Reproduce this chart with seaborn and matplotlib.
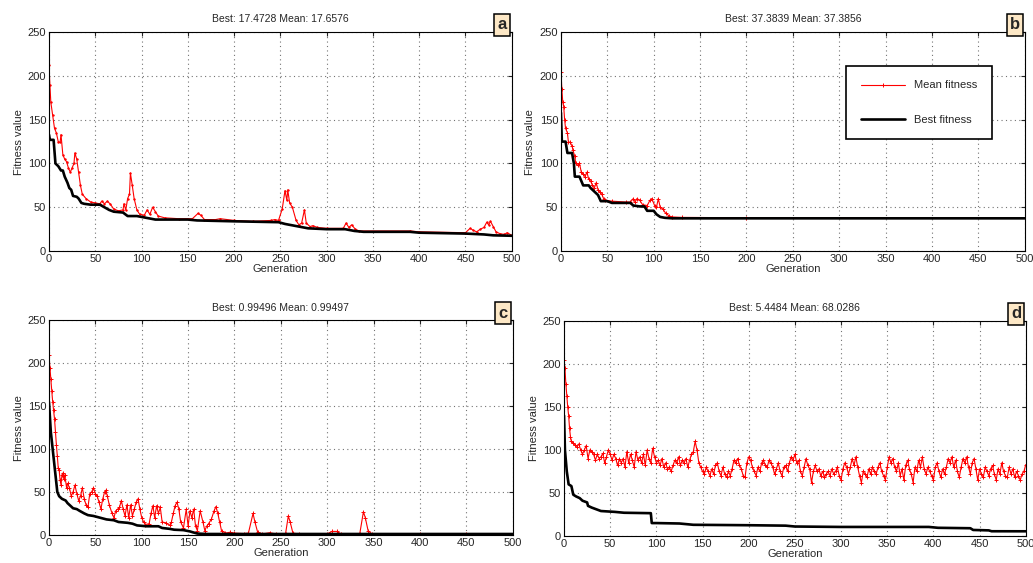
import matplotlib
matplotlib.use("Agg")
import matplotlib.pyplot as plt
import seaborn as sns

titles = ["Best: 17.4728 Mean: 17.6576", "Best: 37.3839 Mean: 37.3856",
          "Best: 0.99496 Mean: 0.99497", "Best: 5.4484 Mean: 68.0286"]
panel_labels = ["a", "b", "c", "d"]

# panel a
a_best_gen = [0, 1, 5, 7, 10, 13, 15, 17, 20, 22, 24, 26, 30, 32, 35, 38, 45, 55, 60, 65,
              70, 80, 85, 95, 105, 115, 150, 160, 200, 248, 255, 265, 275, 280, 300, 320,
              330, 340, 390, 400, 450, 470, 480, 500]
a_best_val = [133, 127, 127, 100, 97, 92, 92, 85, 78, 72, 70, 63, 62, 60, 55, 54, 53, 53, 50, 47,
              45, 44, 40, 40, 38, 36, 36, 35, 34, 33, 31, 29, 27, 26, 25, 25,
              23, 22, 22, 21, 20, 19, 18, 17.5]
a_mean_gen = [0, 1, 2, 4, 6, 8, 10, 12, 13, 15, 17, 19, 21, 23, 25, 27, 28, 30, 32, 34,
              36, 40, 45, 50, 55, 57, 60, 63, 66, 70, 75, 80, 81, 83, 85, 87, 88, 90, 92, 95,
              98, 103, 106, 109, 112, 115, 118, 125, 140, 155, 161, 164, 168, 180, 185, 200,
              220, 240, 244, 248, 252, 255, 257, 258, 260, 263, 267, 270, 273, 276, 278, 282,
              285, 290, 300, 318, 321, 324, 327, 331, 335, 390, 400, 450, 455, 458, 462, 466,
              470, 473, 475, 477, 480, 483, 487, 492, 495, 500]
a_mean_val = [212, 190, 170, 155, 140, 135, 125, 124, 133, 110, 105, 102, 95, 90, 95, 100, 112, 105, 90, 75,
              65, 60, 56, 55, 54, 57, 54, 57, 54, 48, 46, 47, 54, 47, 60, 65, 89, 75, 60, 47,
              42, 41, 47, 42, 50, 45, 40, 38, 37, 37, 43, 41, 36, 36, 37, 35,
              34, 35, 36, 35, 48, 69, 58, 70, 55, 50, 35, 30, 32, 47, 32, 28,
              29, 27, 26, 26, 32, 27, 30, 25, 23, 23, 22, 21, 26, 24, 22, 25,
              27, 33, 30, 34, 28, 22, 20, 19, 21, 18]

# panel b
b_best_gen = [0, 1, 5, 7, 12, 14, 15, 20, 22, 24, 30, 32, 36, 40, 43, 50, 55, 75, 78, 85,
              90, 93, 100, 103, 107, 112, 120, 500]
b_best_val = [158, 125, 125, 112, 112, 100, 85, 85, 80, 75, 75, 72, 68, 64, 57, 57, 55, 55, 52, 51,
              51, 46, 46, 42, 39, 38, 37.4, 37.4]
b_mean_gen = [0, 1, 2, 3, 4, 5, 7, 8, 10, 12, 13, 15, 16, 18, 20, 22, 24, 26, 28, 30,
              32, 34, 36, 38, 40, 42, 44, 46, 48, 55, 70, 75, 78, 80, 82, 85, 88, 93, 96, 98,
              101, 103, 105, 107, 110, 113, 117, 120, 130, 200, 500]
b_mean_val = [205, 185, 170, 165, 150, 140, 135, 125, 124, 120, 115, 108, 100, 98, 100, 90, 88, 85, 90, 82,
              80, 75, 72, 78, 70, 67, 65, 60, 58, 57, 56, 56, 60, 56, 60, 58, 53, 52, 58, 60,
              52, 50, 60, 50, 48, 43, 40, 39, 38.5, 38, 37.4]

# panel c
c_best_gen = [0, 2, 5, 9, 11, 14, 18, 20, 23, 26, 30, 33, 38, 42, 48, 55, 62, 70, 75, 85,
              90, 95, 105, 118, 122, 130, 135, 145, 152, 155, 160, 170, 500]
c_best_val = [155, 120, 90, 50, 45, 42, 40, 37, 34, 31, 30, 28, 25, 23, 22, 20, 18, 17, 15, 14,
              13, 11, 10, 10, 8, 7, 6, 5.5, 4, 3, 1.5, 1, 0.99]
c_mean_gen = [0, 1, 2, 3, 4, 5, 6, 7, 8, 9, 10, 11, 12, 13, 14, 15, 16, 17, 19, 20,
              22, 24, 26, 28, 30, 32, 34, 36, 38, 40, 42, 44, 46, 48, 50, 52, 54, 56, 58, 60,
              61, 63, 65, 68, 70, 72, 74, 76, 78, 80, 82, 84, 86, 88, 90, 92, 94, 96, 98, 100,
              102, 104, 108, 110, 112, 114, 116, 118, 120, 122, 126, 130, 132, 134, 136, 138,
              140, 142, 145, 148, 150, 152, 154, 156, 158, 160, 163, 166, 168, 170, 172, 175,
              178, 180, 182, 184, 186, 190, 195, 200, 210, 215, 220, 222, 225, 230, 238, 245,
              255, 258, 260, 263, 270, 300, 305, 310, 315, 335, 339, 341, 344, 348, 400, 450, 500]
c_mean_val = [210, 195, 182, 168, 155, 145, 135, 120, 105, 92, 78, 75, 64, 58, 70, 72, 65, 70, 55, 60,
              55, 45, 50, 58, 48, 40, 45, 55, 42, 35, 32, 48, 50, 55, 48, 45, 38, 30, 42, 50,
              52, 45, 35, 25, 20, 28, 30, 32, 40, 30, 22, 35, 20, 35, 22, 30, 38, 42, 30, 20,
              15, 12, 13, 25, 34, 20, 34, 25, 32, 15, 14, 11, 15, 25, 34, 38,
              30, 15, 8, 30, 10, 28, 20, 30, 10, 5, 28, 15, 5, 10, 13, 18,
              28, 33, 25, 15, 5, 2, 3, 2, 1.5, 2, 25, 15, 3, 1, 2.5, 1,
              1, 22, 15, 2, 1, 1, 4, 4, 1, 1, 27, 20, 5, 1, 1, 1, 1]

# panel d
d_best_gen = [0, 1, 3, 5, 8, 10, 13, 17, 20, 25, 26, 30, 35, 40, 55, 65, 94, 95, 100, 125,
              140, 200, 240, 250, 300, 395, 405, 440, 443, 460, 463, 500]
d_best_val = [140, 100, 75, 60, 58, 48, 46, 44, 41, 39, 35, 33, 31, 29, 28, 27, 26.5, 15, 15, 14.5,
              13, 12.5, 12, 11, 10.5, 10.5, 9.5, 9, 7, 6.5, 5.5, 5.45]
d_mean_gen = [0, 1, 2, 3, 4, 5, 6, 7, 8] + list(range(10, 501, 2))
d_mean_val = [205, 195, 177, 163, 150, 140, 125, 115, 110,
              108, 106, 104, 107, 100, 95, 100, 105, 90, 100,
              98, 95, 88, 95, 90, 92, 96, 85, 92, 100,
              95, 88, 95, 90, 82, 90, 85, 90, 80, 98,
              85, 95, 88, 80, 98, 88, 92, 85, 95, 82,
              100, 90, 85, 102, 92, 85, 88, 82, 90, 80,
              85, 78, 80, 75, 82, 88, 85, 92, 82, 88,
              85, 90, 80, 88, 95, 98, 110, 100, 85, 80,
              75, 72, 80, 75, 70, 78, 72, 82, 85, 75,
              70, 80, 72, 68, 75, 70, 78, 88, 85, 90,
              82, 78, 70, 68, 85, 92, 88, 80, 75, 70,
              80, 75, 85, 88, 82, 80, 88, 85, 80, 72,
              78, 85, 75, 70, 80, 82, 75, 85, 92, 88,
              95, 85, 88, 75, 70, 80, 90, 82, 78, 62,
              75, 82, 75, 78, 70, 75, 68, 72, 75, 70,
              78, 72, 75, 80, 70, 65, 78, 85, 80, 72,
              80, 90, 82, 92, 80, 70, 62, 75, 72, 68,
              78, 72, 80, 75, 72, 80, 85, 75, 70, 65,
              80, 92, 85, 90, 80, 75, 85, 70, 78, 65,
              82, 88, 78, 72, 62, 80, 75, 88, 80, 92,
              78, 72, 80, 75, 70, 65, 80, 85, 75, 68,
              78, 72, 80, 90, 85, 92, 80, 88, 75, 68,
              80, 90, 85, 92, 80, 72, 85, 90, 78, 65,
              78, 72, 68, 80, 75, 70, 78, 82, 72, 65,
              78, 72, 85, 75, 70, 68, 80, 72, 78, 68,
              75, 70, 65, 72, 75, 83]

best_gens = [a_best_gen, b_best_gen, c_best_gen, d_best_gen]
best_vals = [a_best_val, b_best_val, c_best_val, d_best_val]
mean_gens = [a_mean_gen, b_mean_gen, c_mean_gen, d_mean_gen]
mean_vals = [a_mean_val, b_mean_val, c_mean_val, d_mean_val]

sns.set_style("white")
plt.rcParams["font.family"] = ["Liberation Sans", "DejaVu Sans"]
plt.rcParams["font.size"] = 8

fig = plt.figure(figsize=(10.33, 5.63), dpi=100)
positions = [[0.0474, 0.554, 0.448, 0.389], [0.543, 0.554, 0.449, 0.389],
             [0.0474, 0.050, 0.449, 0.381], [0.546, 0.048, 0.447, 0.382]]
mean_marker = [".", "+", "+", "+"]
mean_msize = [2, 3, 3.5, 3.5]

for i in range(4):
    ax = fig.add_axes(positions[i])
    sns.lineplot(x=mean_gens[i], y=mean_vals[i], ax=ax, color="red", linewidth=0.8,
                 marker=mean_marker[i], markersize=mean_msize[i], markeredgecolor="red",
                 markerfacecolor="red", markeredgewidth=0.7, estimator=None, sort=False,
                 label="Mean fitness" if i == 1 else None, legend=False)
    sns.lineplot(x=best_gens[i], y=best_vals[i], ax=ax, color="black", linewidth=1.9,
                 estimator=None, sort=False,
                 label="Best fitness" if i == 1 else None, legend=False)
    ax.set_xlim(0, 500)
    ax.set_ylim(0, 250)
    ax.set_xticks(range(0, 501, 50))
    ax.set_yticks(range(0, 251, 50))
    ax.grid(True, linestyle=(0, (1, 3)), color="0.45", linewidth=0.8)
    ax.tick_params(direction="in", length=3, labelsize=8, top=True, right=True, pad=2)
    for s in ax.spines.values():
        s.set_color("black")
        s.set_linewidth(0.8)
    ax.set_title(titles[i], fontsize=7.5, pad=7)
    ax.set_xlabel("Generation", fontsize=8, labelpad=0)
    ax.set_ylabel("Fitness value", fontsize=8, labelpad=3)
    ax.text(0.979, 1.033, panel_labels[i], transform=ax.transAxes, ha="center", va="center",
            fontsize=12, fontweight="bold",
            bbox=dict(boxstyle="square,pad=0.2", facecolor="#fde8c6", edgecolor="black",
                      linewidth=1.1))
    if i == 1:
        leg = ax.legend(loc="upper right", bbox_to_anchor=(0.929, 0.845), fontsize=8,
                        fancybox=False, framealpha=1, edgecolor="black", labelspacing=2.2,
                        borderpad=1.3, handlelength=4.0, handletextpad=0.8, borderaxespad=0)
        leg.get_frame().set_linewidth(1.2)

fig.savefig("out.png", dpi=100)
